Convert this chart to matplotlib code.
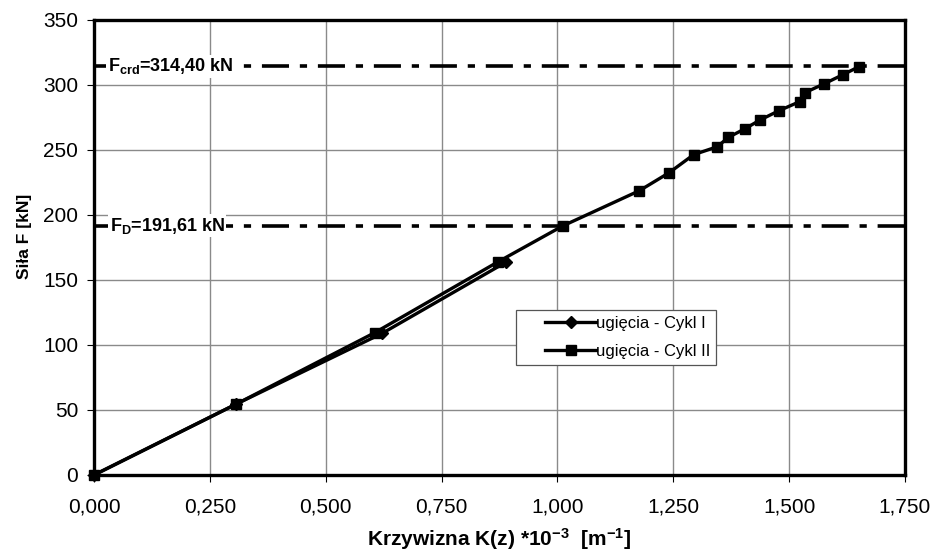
import matplotlib
matplotlib.use("Agg")
import matplotlib.pyplot as plt
from matplotlib.legend_handler import HandlerLine2D

plt.rcParams["font.family"] = ["Liberation Sans", "DejaVu Sans"]
plt.rcParams["mathtext.fontset"] = "custom"
plt.rcParams["mathtext.default"] = "bf"
plt.rcParams["mathtext.bf"] = "Liberation Sans:bold"
plt.rcParams["mathtext.rm"] = "Liberation Sans:bold"

# Krzywizna K(z)*10^-3 [1/m] i siła F [kN]
k_cykl1 = [0.000, 0.306, 0.622, 0.888]
f_cykl1 = [0.0, 54.4, 109.0, 163.5]

k_cykl2 = [0.000, 0.306, 0.606, 0.872, 1.011, 1.177, 1.241, 1.294, 1.345,
           1.369, 1.405, 1.437, 1.478, 1.523, 1.534, 1.575, 1.616, 1.651]
f_cykl2 = [0.0, 54.4, 109.5, 164.0, 191.5, 218.7, 232.5, 246.4, 252.5,
           259.7, 266.4, 273.0, 280.2, 287.2, 294.1, 300.8, 307.9, 314.1]

f_crd = 314.40
f_d = 191.61

x_ticks = [0.0, 0.25, 0.5, 0.75, 1.0, 1.25, 1.5, 1.75]
x_tick_labels = ["0,000", "0,250", "0,500", "0,750", "1,000", "1,250", "1,500", "1,750"]
y_ticks = [0, 50, 100, 150, 200, 250, 300, 350]

fig = plt.figure(figsize=(9.31, 5.52), dpi=100)
ax = fig.add_axes([0.101, 0.1395, 0.871, 0.8243])

ax.set_xlim(0, 1.75)
ax.set_ylim(0, 350)
ax.set_xticks(x_ticks)
ax.set_xticklabels(x_tick_labels)
ax.set_yticks(y_ticks)
ax.tick_params(axis="both", labelsize=15, length=5, width=0.8, direction="out")
ax.tick_params(axis="x", pad=11)
ax.tick_params(axis="y", pad=6.5)
ax.grid(True, color="#8a8a8a", linewidth=1.0)
ax.set_axisbelow(True)
for sp in ax.spines.values():
    sp.set_linewidth(2.4)
    sp.set_color("black")

# linie poziome sił charakterystycznych
dash = (0, (7.5, 3.0, 2.0, 3.0))
ax.axhline(f_crd, color="black", linewidth=2.6, linestyle=dash, zorder=2)
ax.axhline(f_d, color="black", linewidth=2.6, linestyle=dash, zorder=2)
box = dict(facecolor="white", edgecolor="none", pad=1.0)
ax.text(0.030, f_crd, "F$_{crd}$=314,40 kN", fontsize=13, fontweight="bold",
        va="center", ha="left", bbox=box, zorder=3)
ax.text(0.034, f_d, "F$_{D}$=191,61 kN", fontsize=13, fontweight="bold",
        va="center", ha="left", bbox=box, zorder=3)

ax.plot(k_cykl1, f_cykl1, color="black", linewidth=2.4, marker="D",
        markersize=6.5, label="ugięcia - Cykl I", zorder=4, clip_on=False)
ax.plot(k_cykl2, f_cykl2, color="black", linewidth=2.4, marker="s",
        markersize=7.5, label="ugięcia - Cykl II", zorder=5, clip_on=False)

leg = ax.legend(loc="upper left", bbox_to_anchor=(0.5203, 0.3626), borderaxespad=0,
                fontsize=12, frameon=True, fancybox=False, framealpha=1,
                edgecolor="#555555", handlelength=4.45, borderpad=0.35,
                labelspacing=0.78, handletextpad=0.0,
                handler_map={plt.Line2D: HandlerLine2D(xpad=1.4)})
leg.get_frame().set_linewidth(0.9)

ax.set_xlabel("Krzywizna K(z) *10$^{-3}$  [m$^{-1}$]", fontsize=15,
              fontweight="bold", labelpad=7)
ax.set_ylabel("Siła F [kN]", fontsize=12.5, fontweight="bold")
ax.yaxis.set_label_coords(-0.077, 0.525)

fig.savefig("out.png", dpi=100)
